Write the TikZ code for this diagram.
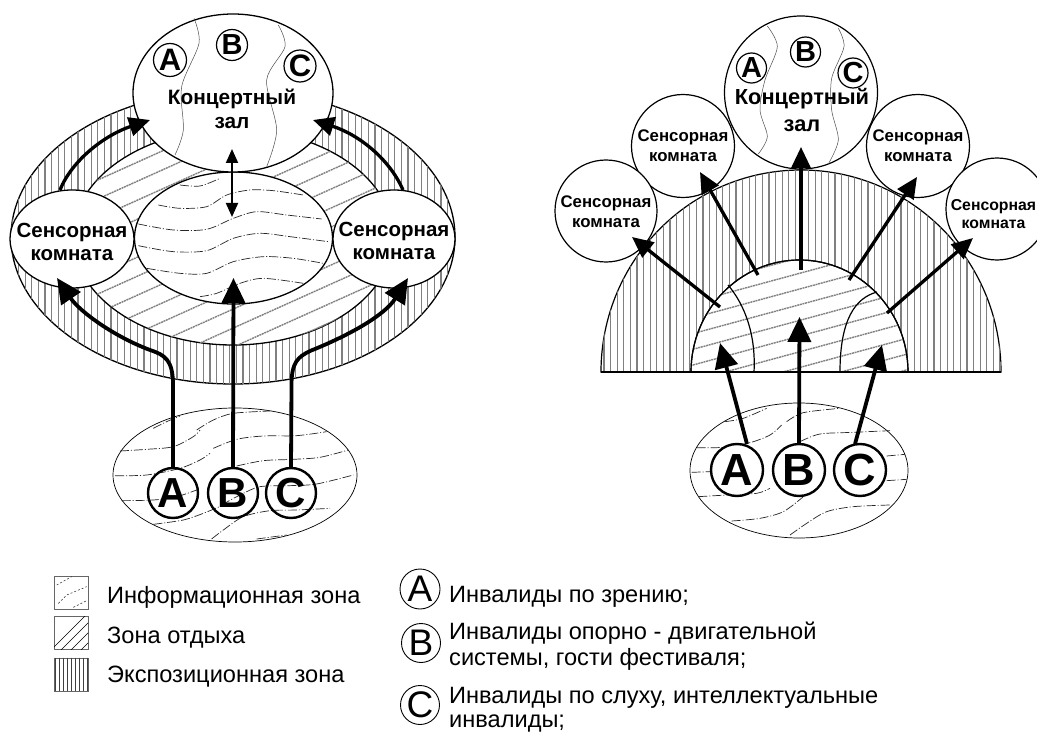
\documentclass[tikz,border=0pt]{standalone}
\usepackage{fontspec}
\setmainfont{Liberation Sans}
\usetikzlibrary{shapes.geometric,arrows.meta}
\newcommand{\fz}[1]{\fontsize{#1}{#1}\selectfont}
\tikzset{
 zone/.style={draw=black,line width=1.2pt,fill=white},
 oval/.style={ellipse,draw=black,line width=1.3pt,fill=white,inner sep=0pt,outer sep=0pt},
 round/.style={circle,draw=black,inner sep=0pt,outer sep=0pt},
 bigletter/.style={round,line width=2.4pt,minimum size=50pt,font=\fz{42}\bfseries},
 smallletter/.style={round,line width=1.2pt,minimum size=32pt,font=\fz{31}\bfseries},
 legletter/.style={round,line width=.9pt,minimum size=39pt,font=\fz{37}},
 arr/.style={line width=3.8pt,-{Triangle[length=25pt,width=23pt]}},
 arrs/.style={line width=3.3pt,-{Triangle[length=21pt,width=19pt]}},
 dbl/.style={line width=2pt,{Triangle[length=14pt,width=12pt]}-{Triangle[length=14pt,width=12pt]}},
 infoline/.style={line width=.7pt,black!85,dash pattern=on 9pt off 2pt on 1pt off 2pt},
 vhatch/.style={line width=1.1pt,black!50},
 rhatch/.style={line width=1.4pt,black!50,dash pattern=on 2pt off .7pt},
 hall/.style={line width=.5pt,black!70},
 swatch/.style={draw=black!60,line width=.9pt,minimum width=34pt,minimum height=33pt,inner sep=0pt,anchor=north west},
 legtext/.style={anchor=base west,inner sep=0pt,font=\fz{23.6}},
 hallL/.style={font=\fz{20.8}\bfseries,inner sep=0pt},
 senL/.style={font=\fz{20.5}\bfseries,inner sep=0pt,align=center},
 hallR/.style={font=\fz{21.8}\bfseries,inner sep=0pt},
 senR/.style={font=\fz{16.8}\bfseries,inner sep=0pt,align=center},
 disc/.style={circle,draw=black,fill=white,line width=1.2pt,inner sep=0pt,outer sep=0pt},
}
\begin{document}
\begin{tikzpicture}[x=1pt,y=-1pt]
\clip (0,0) rectangle (1037,733);
\fill[white] (0,0) rectangle (1037,733);
%%%%%%%%%%%%%%%%% LEFT DIAGRAM
\node[oval,minimum width=444pt,minimum height=294pt] (outer) at (233,237) {};
\begin{scope}
 \clip (233,237) ellipse [x radius=222,y radius=147];
 \foreach \i in {0,...,68} \draw[vhatch] (12+6.6*\i,80) -- (12+6.6*\i,400);
\end{scope}
\node[oval,minimum width=320pt,minimum height=216pt] (rest) at (233,237) {};
\begin{scope}
 \clip (233,237) ellipse [x radius=160,y radius=108];
 \foreach \i in {0,...,26} \draw[rhatch] (60,140+19*\i) -- (420,-22+19*\i);
\end{scope}
\node[oval,minimum width=198pt,minimum height=132pt] (info) at (233.5,238) {};
\begin{scope}[x=0.33333pt,y=-0.33333pt]
 \draw[infoline] plot[smooth] coordinates {(540,555)(600,558)(660,535)};
 \draw[infoline] plot[smooth] coordinates {(475,615)(540,625)(620,620)(680,585)(750,570)(820,572)(910,585)};
 \draw[infoline] plot[smooth] coordinates {(415,672)(520,690)(620,688)(700,655)(770,635)(860,645)(965,657)};
 \draw[infoline] plot[smooth] coordinates {(415,737)(520,755)(620,752)(700,715)(780,700)(870,710)(985,725)};
 \draw[infoline] plot[smooth] coordinates {(440,805)(540,820)(620,820)(700,785)(790,770)(880,775)(970,790)};
 \draw[infoline] plot[smooth] coordinates {(600,890)(650,880)(720,850)(790,835)(910,850)};
\end{scope}
\node[oval,minimum width=124pt,minimum height=98pt] (senA) at (72,239) {};
\node[oval,minimum width=122pt,minimum height=98pt] (senB) at (394,239) {};
\node[oval,minimum width=200pt,minimum height=158pt] (hall) at (233,93) {};
\begin{scope}[x=0.33333pt,y=-0.33333pt]
 \draw[hall] plot[smooth] coordinates {(582,55)(597,130)(545,260)(550,390)(525,465)};
 \draw[hall] plot[smooth] coordinates {(835,75)(855,140)(800,240)(830,390)(800,500)};
\end{scope}
\node[smallletter,minimum size=33pt] (ha) at (170,60) {A};
\node[smallletter,minimum size=31pt,font=\fz{29}\bfseries] (hb) at (232,45) {B};
\node[smallletter] (hc) at (300,66) {C};
\node[hallL] (t1) at (232,99) {Концертный};
\node[hallL] (t2) at (232,123) {зал};
\node[senL] (t3) at (72,242) {Сенсорная\\[2pt]комната};
\node[senL] (t4) at (394,241) {Сенсорная\\[2pt]комната};
% bottom ellipse
\node[oval,line width=.7pt,minimum width=244pt,minimum height=134pt] (lobbyL) at (235,475) {};
\begin{scope}[x=0.33333pt,y=-0.33333pt,xshift=90pt,yshift=-340pt]
 \draw[infoline] plot[smooth] coordinates {(190,265)(230,245)(270,228)};
 \draw[infoline] plot[smooth] coordinates {(320,270)(370,240)(430,220)(540,213)};
 \draw[infoline] plot[smooth] coordinates {(90,333)(170,328)(250,320)(310,290)(330,270)};
 \draw[infoline] plot[smooth] coordinates {(370,325)(440,298)(520,288)(620,287)(710,275)};
 \draw[infoline] plot[smooth] coordinates {(75,407)(170,405)(270,385)(330,360)(360,340)};
 \draw[infoline] plot[smooth] coordinates {(440,378)(520,362)(610,358)(690,352)(775,330)};
 \draw[infoline] plot[smooth] coordinates {(95,482)(190,480)(260,470)(320,450)};
 \draw[infoline] plot[smooth] coordinates {(395,495)(450,465)(510,440)(600,437)(680,432)(790,405)};
 \draw[infoline] plot[smooth] coordinates {(190,553)(280,540)(340,520)(400,495)};
 \draw[infoline] plot[smooth] coordinates {(365,597)(400,570)(460,530)(540,512)(620,510)(720,505)};
 \draw[infoline] plot[smooth] coordinates {(500,597)(590,585)};
\end{scope}
\node[bigletter] (la) at (173,493) {A};
\node[bigletter] (lb) at (233,493) {B};
\node[bigletter] (lc) at (291,493) {C};
% left arrows
\coordinate (tipA) at (57,278);
\coordinate (tipB) at (233.5,278);
\coordinate (tipC) at (408,278);
\coordinate (tipH1) at (150,120);
\coordinate (tipH2) at (313,120);
\coordinate (from1) at (60,190);
\coordinate (from2) at (403,190);
\coordinate (dblA) at (232,149);
\coordinate (dblB) at (232,217);
\draw[arr] (la.north) -- (173,385) .. controls (173,360) and (165,355) .. (150,350) .. controls (115,337) and (80,312) .. (tipA);
\draw[arr] (lb.north) -- (tipB);
\draw[arr] (lc.north) -- (291.5,385) .. controls (291.5,362) and (298,357) .. (310,351) .. controls (350,335) and (385,315) .. (tipC);
\draw[arrs] (from1) .. controls (72,160) and (105,135) .. (tipH1);
\draw[arrs] (from2) .. controls (390,160) and (360,135) .. (tipH2);
\draw[dbl] (dblA) -- (dblB);
%%%%%%%%%%%%%%%%% RIGHT DIAGRAM
\node[disc,minimum size=103pt] (s2) at (683,146) {};
\node[disc,minimum size=102pt] (s1) at (606,211) {};
\node[disc,minimum size=103pt] (s3) at (918,146) {};
\node[disc,minimum size=102pt] (s4) at (997,209) {};
\node[disc,minimum size=153pt] (hallR) at (801,92.5) {};
\begin{scope}[x=0.33333pt,y=-0.33333pt,xshift=530pt]
 \draw[hall] plot[smooth] coordinates {(712,78)(742,140)(705,240)(690,330)(712,410)(685,462)};
 \draw[hall] plot[smooth] coordinates {(925,85)(942,140)(905,235)(905,330)(925,420)(895,492)};
\end{scope}
% half discs
\path[zone] (601,372) .. controls (601,260.4) and (690.5,170) .. (801,170) .. controls (911.5,170) and (1001,260.4) .. (1001,372) -- cycle;
\begin{scope}
 \clip (601,372) .. controls (601,260.4) and (690.5,170) .. (801,170) .. controls (911.5,170) and (1001,260.4) .. (1001,372) -- cycle;
 \foreach \i in {0,...,60} \draw[vhatch] (604+6.6*\i,160) -- (604+6.6*\i,372);
\end{scope}
\path[zone] (691,372) .. controls (691,310.1) and (739.6,260) .. (799.5,260) .. controls (859.4,260) and (908,310.1) .. (908,372) -- cycle;
\begin{scope}
 \clip (691,372) .. controls (691,310.1) and (739.6,260) .. (799.5,260) .. controls (859.4,260) and (908,310.1) .. (908,372) -- cycle;
 \foreach \i in {0,...,16} \draw[rhatch] (680,290+15.7*\i) -- (920,225+15.7*\i);
\end{scope}
\draw[line width=1.2pt] (728,285) .. controls (745,305) and (756,335) .. (754,372);
\draw[line width=1.2pt] (877,292) .. controls (855,298) and (840,320) .. (840,372);
\draw[line width=1.2pt] (691,372) .. controls (691,310.1) and (739.6,260) .. (799.5,260) .. controls (859.4,260) and (908,310.1) .. (908,372);
\draw[line width=2pt] (601,372) -- (1001,372);
\node[smallletter,minimum size=30pt,font=\fz{29}\bfseries] (ra) at (751.5,68) {A};
\node[smallletter,minimum size=30pt,font=\fz{29}\bfseries] (rb) at (805.5,52) {B};
\node[smallletter,minimum size=30pt,font=\fz{29}\bfseries] (rc) at (853,73) {C};
\node[hallR] (t5) at (802,99) {Концертный};
\node[hallR] (t6) at (802,126) {зал};
\node[senR] (t7) at (606,212) {Сенсорная\\[3pt]комната};
\node[senR] (t8) at (683,146) {Сенсорная\\[3pt]комната};
\node[senR] (t9) at (918,146) {Сенсорная\\[3pt]комната};
\node[senR,font=\fz{15.8}\bfseries] (t10) at (993.5,214) {Сенсорная\\[3pt]комната};
% right bottom
\node[oval,line width=.7pt,minimum width=218pt,minimum height=135pt] (lobbyR) at (799,470.5) {};
\begin{scope}[x=0.33333pt,y=-0.33333pt,xshift=670pt,yshift=-360pt]
 \draw[infoline] plot[smooth] coordinates {(165,185)(220,175)(290,145)};
 \draw[infoline] plot[smooth] coordinates {(350,185)(400,158)(510,145)};
 \draw[infoline] plot[smooth] coordinates {(80,263)(160,262)(240,248)(300,225)(335,195)};
 \draw[infoline] plot[smooth] coordinates {(390,245)(450,222)(550,217)(660,212)};
 \draw[infoline] plot[smooth] coordinates {(65,337)(120,335)};
 \draw[infoline] plot[smooth] coordinates {(650,288)(705,283)};
 \draw[infoline] plot[smooth] coordinates {(85,410)(170,405)(260,400)(300,385)};
 \draw[infoline] plot[smooth] coordinates {(650,362)(710,358)};
 \draw[infoline] plot[smooth] coordinates {(185,483)(270,475)(340,455)(400,410)};
 \draw[infoline] plot[smooth] coordinates {(360,525)(410,490)(470,455)(550,440)(660,435)};
\end{scope}
\node[bigletter,fill=white,minimum size=52pt,font=\fz{45}\bfseries] (ca) at (737,470) {A};
\node[bigletter,fill=white,minimum size=52pt,font=\fz{45}\bfseries] (cb) at (799,470) {B};
\node[bigletter,fill=white,minimum size=52pt,font=\fz{45}\bfseries] (cc) at (860,470) {C};
% right arrows
\coordinate (e1) at (720,307); \coordinate (f1) at (632,237);
\coordinate (e2) at (758,275); \coordinate (f2) at (700,172);
\coordinate (e3) at (801,270); \coordinate (f3) at (801,147);
\coordinate (e4) at (849,280); \coordinate (f4) at (917,177);
\coordinate (e5) at (887,313); \coordinate (f5) at (973,238);
\coordinate (g1) at (720,343); \coordinate (g2) at (799.5,317); \coordinate (g3) at (882,345);
\coordinate (ca2) at (747,444); \coordinate (cc2) at (855,444);
\draw[arrs] (e1) -- (f1);
\draw[arrs] (e2) -- (f2);
\draw[arrs] (e3) -- (f3);
\draw[arrs] (e4) -- (f4);
\draw[arrs] (e5) -- (f5);
\draw[arr] (ca2) -- (g1);
\draw[arr] (cb.north) -- (g2);
\draw[arr] (cc2) -- (g3);
%%%%%%%%%%%%%%%%% LEGEND
\node[swatch] (sw1) at (54,576) {};
\begin{scope}[x=0.33333pt,y=-0.33333pt,xshift=30pt,yshift=-560pt]
 \draw[infoline,line width=.5pt,dash pattern=on 2pt off 2pt] (80,75) -- (125,50);
 \draw[infoline,line width=.5pt,dash pattern=on 2pt off 2pt] (85,130) -- (110,105) -- (170,80);
 \draw[infoline,line width=.5pt,dash pattern=on 2pt off 2pt] (130,142) -- (170,122);
\end{scope}
\node[swatch] (sw2) at (54,616) {};
\begin{scope}
 \clip (54,616) rectangle (88,649);
 \foreach \i in {0,...,6} \draw[black,line width=.7pt] (46+10*\i,655) -- (46+10*\i+40,615);
\end{scope}
\node[swatch] (sw3) at (54,657.5) {};
\begin{scope}
 \foreach \i in {0,...,8} \draw[black!75,line width=1pt] (55+4*\i,657.5) -- (55+4*\i,691);
\end{scope}
\node[legtext] (l1) at (107,603) {Информационная зона};
\node[legtext] (l2) at (107,643) {Зона отдыха};
\node[legtext] (l3) at (107,682) {Экспозиционная зона};
\node[legletter,minimum size=40pt] (la2) at (420,589) {A};
\node[legletter] (lb2) at (421,643) {B};
\node[legletter] (lc2) at (420,705) {C};
\node[legtext] (r1) at (449,602) {Инвалиды по зрению;};
\node[legtext] (r2) at (449,639) {Инвалиды опорно - двигательной};
\node[legtext] (r3) at (449,665) {системы, гости фестиваля;};
\node[legtext] (r4) at (449,703) {Инвалиды по слуху, интеллектуальные};
\node[legtext] (r5) at (449,727.5) {инвалиды;};
\end{tikzpicture}
\end{document}
